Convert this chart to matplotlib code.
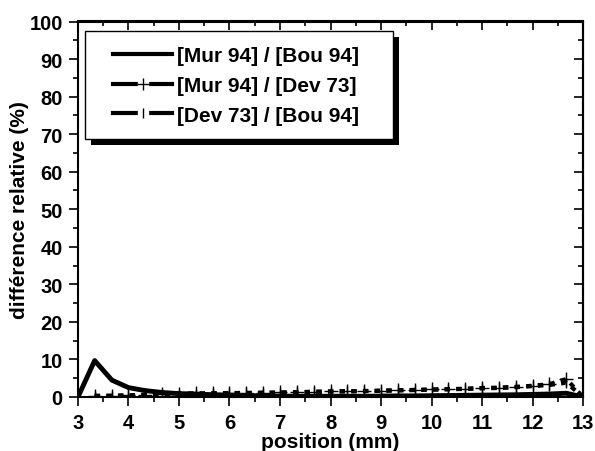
import matplotlib
matplotlib.use("Agg")
import matplotlib.pyplot as plt
from matplotlib.patches import Rectangle
from matplotlib.lines import Line2D
from matplotlib.legend_handler import HandlerTuple
from matplotlib.ticker import MultipleLocator
import numpy as np

plt.rcParams["font.family"] = ["Liberation Sans", "DejaVu Sans"]
plt.rcParams["font.weight"] = "bold"

# positions (mm), pas de 1/3 mm
position = [3.0, 3.33, 3.67, 4.0, 4.33, 4.67, 5.0, 5.33, 5.67, 6.0, 6.33,
            6.67, 7.0, 7.33, 7.67, 8.0, 8.33, 8.67, 9.0, 9.33, 9.67, 10.0,
            10.33, 10.67, 11.0, 11.33, 11.67, 12.0, 12.33, 12.67, 13.0]

mur_bou = [0.0, 9.7, 4.5, 2.5, 1.7, 1.2, 0.9, 0.8, 0.6, 0.5, 0.4,
           0.3, 0.25, 0.2, 0.2, 0.2, 0.2, 0.2, 0.25, 0.3, 0.3, 0.35,
           0.4, 0.45, 0.5, 0.55, 0.6, 0.7, 0.8, 1.0, 0.0]

mur_dev = [None, 0.3, 0.35, 0.45, 0.6, 0.75, 0.9, 0.95, 1.0, 1.05, 1.1,
           1.15, 1.2, 1.3, 1.4, 1.5, 1.55, 1.6, 1.7, 1.8, 1.9, 2.0,
           2.1, 2.2, 2.4, 2.5, 2.7, 3.0, 3.4, 4.8, 0.0]

dev_bou = [None, 0.3, 0.3, 0.4, 0.55, 0.7, 0.85, 0.9, 0.95, 1.0, 1.05,
           1.1, 1.15, 1.25, 1.35, 1.45, 1.5, 1.55, 1.65, 1.75, 1.85, 1.95,
           2.05, 2.15, 2.3, 2.4, 2.6, 2.9, 3.2, 3.8, 0.0]

labels = ["[Mur 94] / [Bou 94]", "[Mur 94] / [Dev 73]", "[Dev 73] / [Bou 94]"]

to_arr = lambda v: np.array([np.nan if a is None else a for a in v], dtype=float)

W, H = 595, 452
fig = plt.figure(figsize=(W / 100, H / 100), dpi=100)
ax = fig.add_axes([78 / W, 1 - 398 / H, 505 / W, 375.5 / H])

dash = (0, (1.3, 1.5))
ax.plot(position, mur_bou, color="black", lw=3.5, zorder=3)
ax.plot(position, to_arr(mur_dev), color="black", lw=3.0, ls=dash,
        marker="+", ms=10, mew=1.0, zorder=3)
ax.plot(position, to_arr(dev_bou), color="black", lw=3.0, ls=dash,
        marker="|", ms=7, mew=1.0, zorder=3)

ax.set_xlim(3, 13)
ax.set_ylim(0, 100)
ax.xaxis.set_major_locator(MultipleLocator(1))
ax.xaxis.set_minor_locator(MultipleLocator(0.5))
ax.yaxis.set_major_locator(MultipleLocator(10))
ax.yaxis.set_minor_locator(MultipleLocator(5))

for s in ax.spines.values():
    s.set_linewidth(1.5)

ax.tick_params(which="both", direction="out", top=False, right=False,
               labelsize=14.5, width=1.2)
ax.tick_params(which="major", length=6.5)
ax.tick_params(which="minor", length=3.5)
ax.tick_params(axis="x", pad=5)
ax.tick_params(axis="y", pad=4.5)

# graduations internes en haut et à droite
ax_t = ax.secondary_xaxis("top")
ax_t.xaxis.set_major_locator(MultipleLocator(1))
ax_t.xaxis.set_minor_locator(MultipleLocator(0.5))
ax_t.tick_params(which="both", direction="in", labeltop=False, width=1.2)
ax_t.tick_params(which="major", length=6.5)
ax_t.tick_params(which="minor", length=3.5)
ax_r = ax.secondary_yaxis("right")
ax_r.yaxis.set_major_locator(MultipleLocator(10))
ax_r.yaxis.set_minor_locator(MultipleLocator(5))
ax_r.tick_params(which="both", direction="in", labelright=False, width=1.2)
ax_r.tick_params(which="major", length=6.5)
ax_r.tick_params(which="minor", length=3.5)
ax_t.spines["top"].set_linewidth(1.5)
ax_r.spines["right"].set_linewidth(1.5)

ax.set_xlabel("position (mm)", fontsize=15, fontweight="bold")
ax.xaxis.set_label_coords(0.5, -0.094)
ax.set_ylabel("différence relative (%)", fontsize=15, fontweight="bold")
ax.yaxis.set_label_coords(-0.098, 0.5)

# légende : cadre blanc avec ombre noire décalée
frame = Rectangle((85 / W, 1 - 140 / H), 308 / W, 108 / H, transform=fig.transFigure,
                  facecolor="white", edgecolor="black", lw=1.0, zorder=6,
                  clip_on=False)
shadow = Rectangle((91 / W, 1 - 146 / H), 308 / W, 108 / H, transform=fig.transFigure,
                   facecolor="black", edgecolor="none", zorder=5.5, clip_on=False)
ax.add_artist(shadow)
ax.add_artist(frame)


def gap_handle(mk, ms):
    base = Line2D([], [], color="black", lw=3.0, marker="s", ms=7,
                  mfc="white", mec="white")
    mark = Line2D([], [], ls="none", color="black", marker=mk, ms=ms, mew=1.0)
    return (base, mark)


handles = [Line2D([], [], color="black", lw=3.0), gap_handle("+", 9), gap_handle("|", 7)]
leg = ax.legend(handles, labels, loc="upper left",
                bbox_to_anchor=(113 / W, 1 - 47 / H), bbox_transform=fig.transFigure,
                fontsize=15, frameon=False, numpoints=1, handlelength=2.84,
                handletextpad=0.25, labelspacing=0.52, borderpad=0,
                borderaxespad=0, handler_map={tuple: HandlerTuple(ndivide=1)})
leg.set_zorder(7)

fig.savefig("out.png", dpi=100)
